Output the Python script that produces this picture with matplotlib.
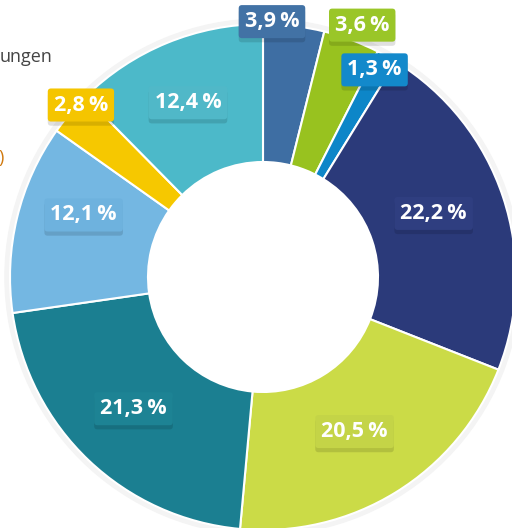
import matplotlib
matplotlib.use('Agg')
import matplotlib.pyplot as plt
import matplotlib.patheffects as pe
from matplotlib.patches import Wedge
import numpy as np

shares = [3.9, 3.6, 1.3, 22.2, 20.5, 21.3, 12.1, 2.8, 12.4]
labels = ['3,9\u2009%', '3,6\u2009%', '1,3\u2009%', '22,2\u2009%', '20,5\u2009%',
          '21,3\u2009%', '12,1\u2009%', '2,8\u2009%', '12,4\u2009%']
colors = ['#3e6ea3', '#98c21f', '#0d86c8', '#2b3a7a', '#cbdb47',
          '#1b7f91', '#74b7e2', '#f6c800', '#4cb9c9']
box_colors = ['#4272a5', '#9ac628', '#1389cb', '#2f3e80', '#c4d447',
              '#1d8394', '#6eb2de', '#f5c500', '#50b8c8']

# label placement: radius (outer radius = 1) and angle shift in degrees
label_r = [1.01, 1.07, 0.93, 0.72, 0.71, 0.73, 0.75, 0.99, 0.75]
label_shift = [-5, 1, -1, -2, 1, 1, 5.5, 3, -1]

W, H = 512, 528
cx, cy, R = 263, 277, 253

plt.rcParams['font.family'] = ['Open Sans', 'DejaVu Sans']

fig = plt.figure(figsize=(W / 100, H / 100), dpi=100)
ax = fig.add_axes([0, 0, 1, 1])

# faint halo around the ring
ax.add_patch(Wedge((0, 0), 1.02, 0, 360, width=0.03, color='#f4f4f4', zorder=0))

wedges, _ = ax.pie(shares, colors=colors, startangle=90, counterclock=False,
                   radius=1, wedgeprops=dict(width=1 - 115 / R, edgecolor='white', linewidth=1.5))

ax.set_aspect('auto')
ax.set_xlim(-cx / R, (W - cx) / R)
ax.set_ylim((cy - H) / R, cy / R)
ax.axis('off')

total = sum(shares)
start = 0.0
for i, v in enumerate(shares):
    mid = (start + v / 2) / total * 360 + label_shift[i]
    start += v
    a = np.deg2rad(mid)
    x = label_r[i] * np.sin(a)
    y = label_r[i] * np.cos(a)
    t = ax.text(x, y, labels[i], ha='center', va='center', color='white',
                fontsize=15.5, fontweight='bold', zorder=5,
                bbox=dict(boxstyle='round,pad=0.28,rounding_size=0.15',
                          fc=box_colors[i], ec='none'))
    t.get_bbox_patch().set_path_effects([
        pe.SimplePatchShadow(offset=(0, -3), shadow_rgbFace='black', alpha=0.12),
        pe.Normal()])

# cut-off legend text at the left edge
fig.text(0, 1 - 57 / H, 'ungen', ha='left', va='center', fontsize=13, color='#444444')
fig.text(-0.004, 1 - 158 / H, ')', ha='left', va='center', fontsize=13, color='#d07a10')

fig.savefig('out.png', dpi=100)
